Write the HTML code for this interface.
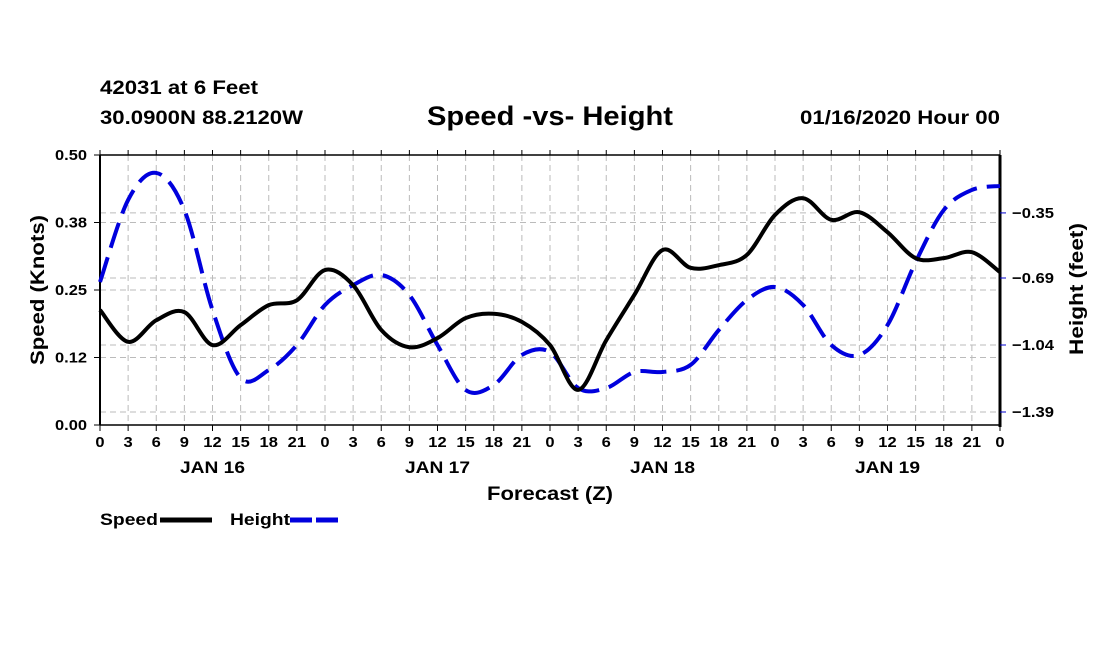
<!DOCTYPE html>
<html><head><meta charset="utf-8"><style>
body{margin:0;background:#fff;}
svg{display:block;font-family:"Liberation Sans",sans-serif;font-weight:bold;}
</style></head><body>
<svg id="c" width="1100" height="650">
<text x="100" y="94" font-size="19" textLength="158" lengthAdjust="spacingAndGlyphs">42031 at 6 Feet</text>
<text x="100" y="124" font-size="19" textLength="203" lengthAdjust="spacingAndGlyphs">30.0900N 88.2120W</text>
<text x="427" y="125" font-size="27" textLength="246" lengthAdjust="spacingAndGlyphs">Speed -vs- Height</text>
<text x="800" y="124" font-size="19" textLength="200" lengthAdjust="spacingAndGlyphs">01/16/2020 Hour 00</text>
<g id="grid"></g>
<g id="axes"></g>
<g id="series"></g>
<text transform="translate(44,365) rotate(-90)" font-size="19" textLength="150" lengthAdjust="spacingAndGlyphs">Speed (Knots)</text>
<text transform="translate(1083,355) rotate(-90)" font-size="19" textLength="132" lengthAdjust="spacingAndGlyphs">Height (feet)</text>
<text x="487" y="500" font-size="19" textLength="126" lengthAdjust="spacingAndGlyphs">Forecast (Z)</text>
<g>
<text x="100" y="525" font-size="17" textLength="58" lengthAdjust="spacingAndGlyphs">Speed</text>
<line x1="160" y1="520" x2="212" y2="520" stroke="#000" stroke-width="5"/>
<text x="230" y="525" font-size="17" textLength="60" lengthAdjust="spacingAndGlyphs">Height</text>
<line x1="290" y1="520" x2="342" y2="520" stroke="#0000dd" stroke-width="5" stroke-dasharray="22,4"/>
</g>
</svg>
<script>
const hourLabels=["0","3","6","9","12","15","18","21"];
const dayLabels=["JAN 16","JAN 17","JAN 18","JAN 19"];
const leftTicks=[0,0.125,0.25,0.375,0.5];
const leftTickLabels=["0.00","0.12","0.25","0.38","0.50"];
const rightTicks=[-1.39,-1.04,-0.69,-0.35];
const rightTickLabels=["\u22121.39","\u22121.04","\u22120.69","\u22120.35"];
const speed=[0.213,0.154,0.194,0.209,0.148,0.185,0.222,0.231,0.287,0.259,0.176,0.144,0.161,0.198,0.206,0.191,0.148,0.065,0.157,0.241,0.324,0.291,0.296,0.315,0.389,0.420,0.380,0.394,0.357,0.309,0.309,0.320,0.283];
const height=[-0.711,-0.282,-0.141,-0.335,-0.857,-1.212,-1.171,-1.040,-0.831,-0.727,-0.674,-0.779,-1.040,-1.275,-1.249,-1.092,-1.077,-1.265,-1.265,-1.181,-1.181,-1.144,-0.962,-0.805,-0.737,-0.831,-1.040,-1.092,-0.936,-0.607,-0.335,-0.230,-0.209];

const L=100,R=1000,T=155,B=425,NS="http://www.w3.org/2000/svg";
const xS=h=>L+h/96*(R-L);
const yL=v=>B-v/0.5*(B-T);
const yR=v=>412-(v+1.39)/0.005224;
function mk(tag,attrs,parent,txt){const e=document.createElementNS(NS,tag);for(const k in attrs)e.setAttribute(k,attrs[k]);if(txt!==undefined)e.textContent=txt;parent.appendChild(e);return e;}
function widen(t,f){const w=t.getComputedTextLength();t.setAttribute('textLength',w*f);t.setAttribute('lengthAdjust','spacingAndGlyphs');}
const grid=document.getElementById('grid'),axes=document.getElementById('axes'),ser=document.getElementById('series');
const gs={stroke:"#bbb","stroke-width":1,"stroke-dasharray":"6,4"};
for(let i=1;i<32;i++){const x=xS(i*3);const e=mk('line',Object.assign({x1:x,x2:x,y1:T,y2:B},gs),grid);

}
leftTicks.slice(1,4).forEach(v=>{const y=yL(v);const e=mk('line',Object.assign({x1:L,x2:R,y1:y,y2:y},gs),grid);

});
rightTicks.forEach(v=>{const y=yR(v);const e=mk('line',Object.assign({x1:L,x2:R,y1:y,y2:y},gs),grid);

});
mk('line',{x1:L,x2:R,y1:T,y2:T,stroke:"#000","stroke-width":1.5},axes);
mk('line',{x1:L,x2:R,y1:B,y2:B,stroke:"#000","stroke-width":1.5},axes);
mk('line',{x1:L,x2:L,y1:T,y2:B,stroke:"#000","stroke-width":2},axes);
mk('line',{x1:R,x2:R,y1:T,y2:B+2,stroke:"#000","stroke-width":3},axes);
for(let i=0;i<=32;i++){const x=xS(i*3);
mk('line',{x1:x,x2:x,y1:B,y2:B+6,stroke:"#000","stroke-width":1},axes);
mk('line',{x1:x,x2:x,y1:T,y2:T-5,stroke:"#000","stroke-width":1},axes);
const t=mk('text',{x:x,y:B+22,"font-size":15,"text-anchor":"middle"},axes,hourLabels[i%8]);


widen(t,1.1);}
dayLabels.forEach((d,i)=>{const t=mk('text',{x:xS(i*24+12),y:B+48,"font-size":17,"text-anchor":"middle"},axes,d);


widen(t,65/t.getComputedTextLength());});
leftTicks.forEach((v,i)=>{const y=yL(v);mk('line',{x1:L-6,x2:L,y1:y,y2:y,stroke:"#000"},axes);
const t=mk('text',{x:L-13,y:y+5,"font-size":15,"text-anchor":"end"},axes,leftTickLabels[i]);


widen(t,32/t.getComputedTextLength());});
rightTicks.forEach((v,i)=>{const y=yR(v);mk('line',{x1:R,x2:R+6,y1:y,y2:y,stroke:"#00c"},axes);
const t=mk('text',{x:R+12,y:y+5,"font-size":15},axes,rightTickLabels[i]);


widen(t,42/t.getComputedTextLength());});
function path(pts){let d=`M${pts[0][0]},${pts[0][1]}`;for(let i=0;i<pts.length-1;i++){const p0=pts[Math.max(0,i-1)],p1=pts[i],p2=pts[i+1],p3=pts[Math.min(pts.length-1,i+2)];
d+=` C${p1[0]+(p2[0]-p0[0])/6},${p1[1]+(p2[1]-p0[1])/6} ${p2[0]-(p3[0]-p1[0])/6},${p2[1]-(p3[1]-p1[1])/6} ${p2[0]},${p2[1]}`;}return d;}
const hp=mk('path',{d:path(height.map((v,i)=>[xS(i*3),yR(v)])),fill:"none",stroke:"#0000dd","stroke-width":4,"stroke-dasharray":"26,10"},ser);


const sp=mk('path',{d:path(speed.map((v,i)=>[xS(i*3),yL(v)])),fill:"none",stroke:"#000","stroke-width":4},ser);


</script>
</body></html>
